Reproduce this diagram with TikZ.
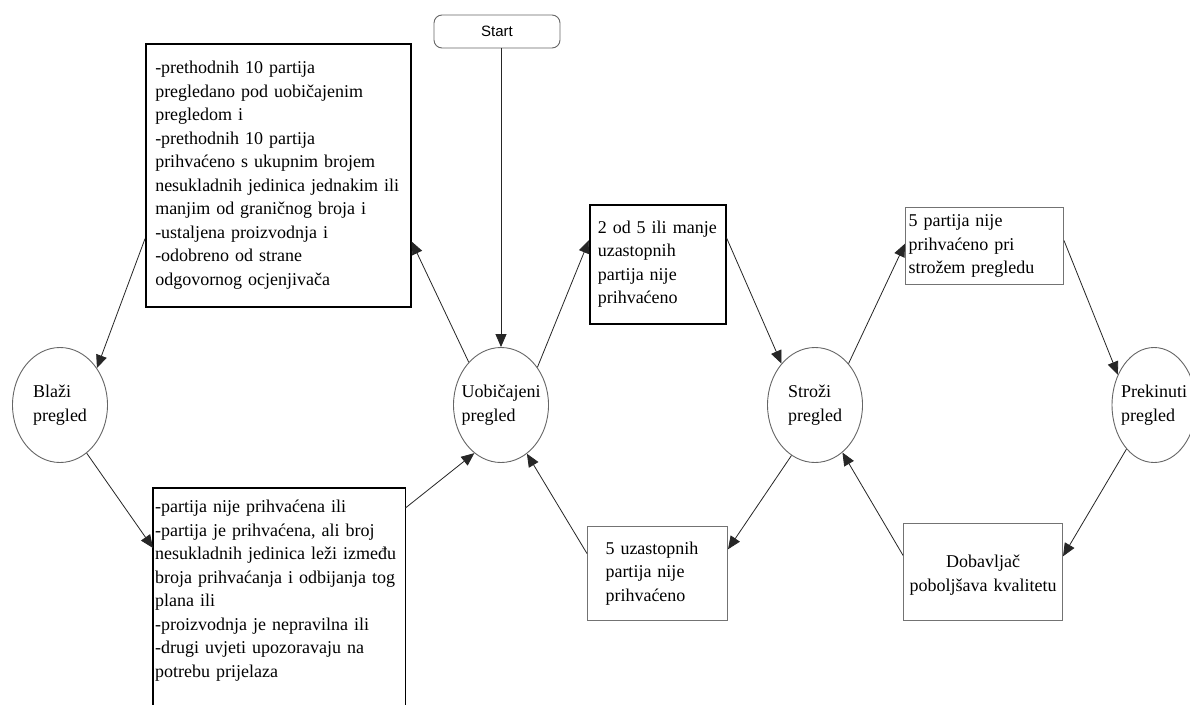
\documentclass[tikz,border=0pt]{standalone}
\usepackage{fontspec}
\setmainfont{Liberation Serif}
\setsansfont{Liberation Sans}
\usetikzlibrary{arrows.meta,calc,shapes.geometric}
\begin{document}
\begin{tikzpicture}[x=1pt,y=-1pt,
  font=\fontsize{18}{23.5}\selectfont,
  conn/.style={draw=black!85, line width=0.8pt, -{Triangle[length=13pt,width=11pt]}},
  thickbox/.style={draw=black, line width=1.5pt, inner sep=0pt, anchor=north west, align=left},
  thinbox/.style={draw=black!55, line width=1pt, inner sep=0pt, anchor=north west, align=left},
  boxline/.style={draw=black, line width=1.5pt},
  state/.style={ellipse, draw=black!60, line width=0.9pt, inner sep=0pt, minimum width=95pt, minimum height=115pt},
  statetext/.style={align=left, inner sep=0pt},
]
\useasboundingbox[fill=white] (0,0) rectangle (1190,704);

% start
\node[draw=black!60, line width=0.9pt, rounded corners=8pt, minimum width=126pt, minimum height=33pt, inner sep=0pt,
      font=\fontsize{15}{17}\sffamily] (start) at (497,31.5) {Start};

% states
\node[state] (blazi) at (60,405) {};
\node[statetext] (blaziT) at (blazi) {Blaži\\pregled};
\node[state] (uob) at (501,405) {};
\node[statetext] (uobT) at (uob) {Uobičajeni\\pregled};
\node[state] (stroz) at (815,405) {};
\node[statetext] (strozT) at (stroz) {Stroži\\pregled};
\node[state, minimum width=84pt] (prek) at (1154,405) {};
\node[statetext] (prekT) at (prek) {Prekinuti\\pregled};

% boxes
\node[thickbox, minimum width=265pt, minimum height=263pt, text width=246pt] (tl) at (145,43)
 {-prethodnih 10 partija\\ pregledano pod uobičajenim\\ pregledom i\\ -prethodnih 10 partija\\ prihvaćeno s ukupnim brojem\\ nesukladnih jedinica jednakim ili\\ manjim od graničnog broja i\\ -ustaljena proizvodnja i\\ -odobreno od strane\\ odgovornog ocjenjivača};

\node[anchor=north west, align=left, text width=248pt, inner xsep=2pt, inner ysep=12pt] (bl) at (153,488)
 {-partija nije prihvaćena ili\\ -partija je prihvaćena, ali broj\\ nesukladnih jedinica leži između\\ broja prihvaćanja i odbijanja tog\\ plana ili\\ -proizvodnja je nepravilna ili\\ -drugi uvjeti upozoravaju na\\ potrebu prijelaza};
\draw[boxline] ($(bl.south west)+(0,40)$) -- (bl.north west) -- (bl.north east) -- ($(bl.south east)+(0,40)$);

\node[thickbox, minimum width=136pt, minimum height=119pt, text width=120pt] (b2) at (589,204)
 {2 od 5 ili manje\\ uzastopnih\\ partija nije\\ prihvaćeno};

\node[thinbox, minimum width=158pt, minimum height=77pt, text width=152pt] (b5p) at (905,207)
 {5 partija nije\\ prihvaćeno pri\\ strožem pregledu};

\node[thinbox, minimum width=140pt, minimum height=94pt, text width=104pt] (b5u) at (587,526)
 {5 uzastopnih\\ partija nije\\ prihvaćeno};

\node[thinbox, align=center, minimum width=159pt, minimum height=97pt, text width=155pt, text depth=21pt] (dob) at (903,523)
 {Dobavljač\\ poboljšava kvalitetu};

% connectors
\draw[conn] (start.south -| uob.north) -- (uob.north);
\draw[conn] ($(tl.north west)!0.74!(tl.south west)$) -- (blazi.45);
\draw[conn] (uob.127) -- ($(tl.north east)!0.75!(tl.south east)$);
\draw[conn] (uob.46) -- ($(b2.north west)!0.30!(b2.south west)$);
\draw[conn] ($(b2.north east)!0.28!(b2.south east)$) -- (stroz.129);
\draw[conn] (stroz.51) -- ($(b5p.north west)!0.47!(b5p.south west)$);
\draw[conn] ($(b5p.north east)!0.43!(b5p.south east)$) -- (prek.140);
\draw[conn] (prek.238) -- ($(dob.north east)!0.34!(dob.south east)$);
\draw[conn] ($(dob.north west)!0.33!(dob.south west)$) -- (stroz.300);
\draw[conn] (stroz.245) -- ($(b5u.north east)!0.245!(b5u.south east)$);
\draw[conn] ($(b5u.north west)!0.29!(b5u.south west)$) -- (uob.298);
\draw[conn] ($(bl.north east)+(0,20)$) -- (uob.241);
\draw[conn] (blazi.299) -- ($(bl.north west)+(0,60)$);
\end{tikzpicture}
\end{document}
